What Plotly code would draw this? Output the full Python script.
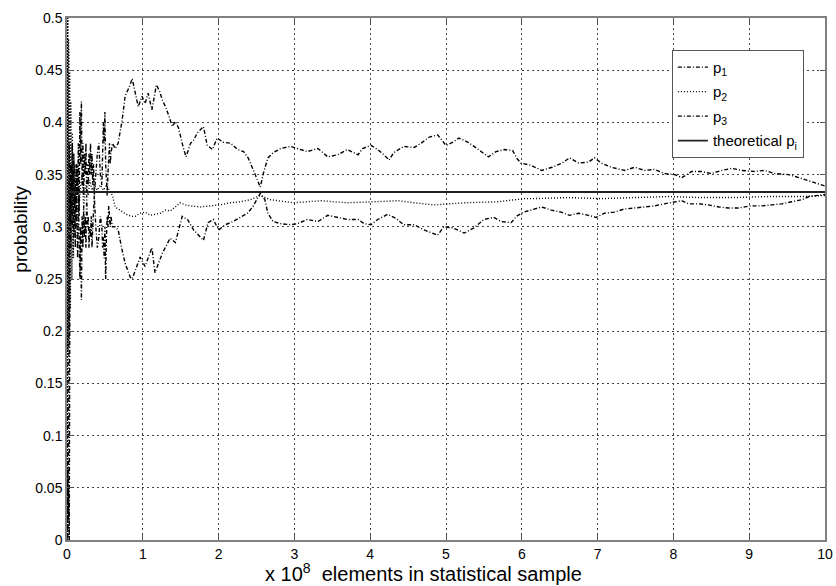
import plotly.graph_objects as go

# ---------------- data (x in units of 1e8 elements) ----------------
p1_x = [0.0, 0.01, 0.02, 0.03, 0.04, 0.05, 0.06, 0.07, 0.08, 0.09, 0.1, 0.11, 0.12, 0.13, 0.14, 0.15,
        0.16, 0.17, 0.18, 0.19, 0.2, 0.21, 0.22, 0.23, 0.24, 0.25, 0.26, 0.27, 0.28, 0.29, 0.3, 0.31,
        0.32, 0.33, 0.34, 0.35, 0.36, 0.38, 0.4, 0.42, 0.44, 0.46, 0.47, 0.48, 0.49, 0.5, 0.51, 0.52,
        0.53, 0.54, 0.55, 0.56, 0.57, 0.58, 0.6,
        0.635, 0.675, 0.70, 0.727, 0.767, 0.80, 0.833, 0.86, 0.90,
        0.94, 0.99, 1.03, 1.07, 1.12, 1.18, 1.22, 1.26, 1.30, 1.34, 1.39, 1.43, 1.47, 1.53, 1.57,
        1.63, 1.67, 1.72, 1.80, 1.85, 1.92, 1.98, 2.06, 2.16, 2.25, 2.33, 2.39, 2.46, 2.53, 2.55,
        2.59, 2.65, 2.72, 2.82, 2.95, 3.04, 3.17, 3.31, 3.44, 3.57, 3.70, 3.84, 3.90, 4.01, 4.10,
        4.18, 4.25, 4.31, 4.44, 4.58, 4.67, 4.78, 4.89, 5.00, 5.09, 5.17, 5.29, 5.37, 5.46, 5.56,
        5.66, 5.77, 5.88, 5.93, 5.99, 6.12, 6.26, 6.40, 6.53, 6.63, 6.75, 6.88, 6.96, 7.05, 7.18,
        7.36, 7.49, 7.62, 7.75, 7.88, 8.02, 8.11, 8.24, 8.37, 8.50, 8.64, 8.77, 8.90, 9.07, 9.20,
        9.34, 9.52, 9.66, 9.74, 9.85, 9.96, 10.0]
p1_y = [0.0, 0.07, 0.02, 0.38, 0.30, 0.36, 0.31, 0.38, 0.33, 0.37, 0.32, 0.34, 0.30, 0.36, 0.33, 0.38,
        0.31, 0.41, 0.36, 0.42, 0.34, 0.38, 0.33, 0.37, 0.35, 0.38, 0.33, 0.36, 0.34, 0.37, 0.35, 0.38,
        0.35, 0.37, 0.34, 0.36, 0.33, 0.35, 0.37, 0.38, 0.35, 0.34, 0.37, 0.40, 0.38, 0.41, 0.36, 0.34,
        0.33, 0.35, 0.37, 0.38, 0.36, 0.37, 0.38,
        0.375, 0.38, 0.39, 0.402, 0.425, 0.43, 0.436, 0.442, 0.43,
        0.415, 0.425, 0.418, 0.428, 0.412, 0.436, 0.43, 0.421, 0.415, 0.407, 0.396, 0.401, 0.395, 0.377, 0.367,
        0.38, 0.383, 0.39, 0.396, 0.378, 0.374, 0.385, 0.381, 0.380, 0.374, 0.372, 0.366, 0.354, 0.342, 0.338,
        0.351, 0.366, 0.371, 0.375, 0.377, 0.375, 0.372, 0.375, 0.367, 0.369, 0.374, 0.369, 0.375, 0.378, 0.374,
        0.369, 0.364, 0.371, 0.377, 0.376, 0.380, 0.386, 0.388, 0.378, 0.381, 0.385, 0.381, 0.377, 0.372, 0.367,
        0.372, 0.374, 0.373, 0.366, 0.361, 0.359, 0.354, 0.357, 0.361, 0.366, 0.361, 0.362, 0.366, 0.361, 0.357,
        0.354, 0.357, 0.354, 0.355, 0.351, 0.350, 0.347, 0.353, 0.353, 0.351, 0.354, 0.356, 0.354, 0.353, 0.354,
        0.351, 0.350, 0.347, 0.345, 0.342, 0.340, 0.339]

p2_x = [0.0, 0.0025, 0.005, 0.0075, 0.01, 0.0125, 0.015, 0.0175, 0.02, 0.0225, 0.025, 0.0275, 0.03,
        0.0325, 0.035, 0.0375, 0.04, 0.045, 0.05, 0.055, 0.06, 0.065, 0.07, 0.075, 0.08, 0.085, 0.09,
        0.095, 0.1, 0.12, 0.14, 0.16, 0.18, 0.2, 0.22, 0.25, 0.28, 0.3, 0.33, 0.36, 0.4,
        0.44, 0.48, 0.52, 0.56, 0.6, 0.635, 0.70, 0.78, 0.85, 0.90, 0.96, 1.03, 1.10, 1.16, 1.23,
        1.30, 1.36, 1.43, 1.49, 1.56, 1.63, 1.76, 1.90, 2.02, 2.15, 2.29, 2.42, 2.55, 2.68, 2.99,
        3.35, 3.70, 4.05, 4.37, 4.58, 4.84, 5.24, 5.69, 6.03, 6.17, 6.61, 7.05, 7.49, 7.94, 8.37,
        8.81, 9.26, 9.70, 10.0]
p2_y = [0.5, 0.0, 0.5, 0.10, 0.5, 0.18, 0.49, 0.20, 0.48, 0.19, 0.47, 0.22, 0.46,
        0.20, 0.45, 0.24, 0.44, 0.22, 0.42, 0.26, 0.40, 0.25, 0.39, 0.28, 0.38, 0.27, 0.37,
        0.30, 0.36, 0.33, 0.35, 0.32, 0.34, 0.35, 0.32, 0.34, 0.33, 0.345, 0.335, 0.34, 0.335,
        0.34, 0.335, 0.34, 0.335, 0.33, 0.319, 0.316, 0.312, 0.310, 0.310, 0.313, 0.314, 0.311, 0.312, 0.313,
        0.316, 0.315, 0.319, 0.323, 0.321, 0.320, 0.319, 0.320, 0.321, 0.323, 0.324, 0.326, 0.330, 0.326, 0.323,
        0.325, 0.323, 0.324, 0.325, 0.323, 0.321, 0.323, 0.324, 0.327, 0.327, 0.328, 0.327, 0.328, 0.329, 0.328,
        0.328, 0.329, 0.329, 0.330]

p3_x = [0.0, 0.01, 0.02, 0.03, 0.04, 0.05, 0.06, 0.07, 0.08, 0.09, 0.1, 0.11, 0.12, 0.13, 0.14, 0.15,
        0.16, 0.17, 0.18, 0.19, 0.2, 0.21, 0.22, 0.23, 0.24, 0.25, 0.26, 0.27, 0.28, 0.29, 0.3, 0.31,
        0.32, 0.33, 0.34, 0.35, 0.36, 0.38, 0.4, 0.42, 0.44, 0.46, 0.47, 0.48, 0.49, 0.5, 0.51, 0.52,
        0.53, 0.54, 0.55, 0.56, 0.57, 0.58, 0.6,
        0.635, 0.675, 0.72, 0.767, 0.833, 0.86, 0.90, 0.965, 1.03,
        1.07, 1.12, 1.16, 1.26, 1.36, 1.43, 1.52, 1.59, 1.67, 1.73, 1.80, 1.86, 1.93, 2.0, 2.09,
        2.19, 2.29, 2.38, 2.45, 2.51, 2.55, 2.61, 2.65, 2.72, 2.82, 2.95, 3.04, 3.17, 3.31, 3.44,
        3.57, 3.70, 3.84, 3.92, 4.01, 4.10, 4.23, 4.34, 4.44, 4.58, 4.71, 4.89, 4.97, 5.09, 5.24,
        5.37, 5.50, 5.63, 5.73, 5.86, 5.93, 6.02, 6.12, 6.26, 6.39, 6.52, 6.63, 6.75, 6.88, 6.98,
        7.09, 7.22, 7.35, 7.49, 7.62, 7.75, 7.88, 8.02, 8.11, 8.20, 8.33, 8.46, 8.60, 8.73, 8.86,
        9.01, 9.17, 9.30, 9.43, 9.56, 9.70, 9.79, 9.92, 10.0]
p3_y = [0.17, 0.0, 0.05, 0.0, 0.33, 0.28, 0.36, 0.30, 0.35, 0.29, 0.33, 0.28, 0.36, 0.30, 0.27, 0.33,
        0.29, 0.25, 0.30, 0.23, 0.31, 0.28, 0.32, 0.29, 0.31, 0.28, 0.33, 0.30, 0.31, 0.28, 0.30, 0.29,
        0.31, 0.28, 0.30, 0.32, 0.33, 0.30, 0.28, 0.29, 0.31, 0.30, 0.28, 0.29, 0.27, 0.30, 0.25, 0.29,
        0.31, 0.30, 0.32, 0.31, 0.30, 0.31, 0.30,
        0.30, 0.297, 0.28, 0.265, 0.252, 0.25, 0.258, 0.271, 0.262,
        0.27, 0.28, 0.256, 0.275, 0.289, 0.285, 0.31, 0.307, 0.297, 0.292, 0.287, 0.304, 0.307, 0.297, 0.302,
        0.305, 0.309, 0.313, 0.319, 0.326, 0.332, 0.326, 0.313, 0.305, 0.303, 0.302, 0.303, 0.307, 0.305, 0.311,
        0.309, 0.307, 0.307, 0.303, 0.302, 0.307, 0.312, 0.308, 0.302, 0.302, 0.297, 0.292, 0.300, 0.299, 0.294,
        0.299, 0.307, 0.309, 0.305, 0.304, 0.310, 0.314, 0.316, 0.319, 0.316, 0.314, 0.311, 0.313, 0.311, 0.309,
        0.313, 0.314, 0.317, 0.318, 0.319, 0.320, 0.322, 0.324, 0.325, 0.322, 0.322, 0.321, 0.319, 0.318, 0.318,
        0.320, 0.320, 0.321, 0.322, 0.324, 0.326, 0.329, 0.330, 0.331]

theory_x = [0.0, 10.0]
theory_p = 1.0 / 3.0

series_names = ["p<sub>1</sub>", "p<sub>2</sub>", "p<sub>3</sub>", "theoretical p<sub>i</sub>"]
y_ticks = [0, 0.05, 0.1, 0.15, 0.2, 0.25, 0.3, 0.35, 0.4, 0.45, 0.5]
x_ticks = [0, 1, 2, 3, 4, 5, 6, 7, 8, 9, 10]

# ---------------- figure ----------------
FONT = "Liberation Sans, Arial, Helvetica, sans-serif"
DASHDOT = "4px,2px,1px,2px"
DOT = "1px,2px"

fig = go.Figure()
fig.add_trace(go.Scatter(x=p1_x, y=p1_y, mode="lines", name=series_names[0], legendgroup="g1",
                         line=dict(color="black", width=1.4, dash=DASHDOT)))
fig.add_trace(go.Scatter(x=p2_x, y=p2_y, mode="lines", name=series_names[1], legendgroup="g2",
                         line=dict(color="black", width=1.4, dash=DOT)))
fig.add_trace(go.Scatter(x=p3_x, y=p3_y, mode="lines", name=series_names[2], legendgroup="g3",
                         line=dict(color="black", width=1.4, dash=DASHDOT)))
fig.add_trace(go.Scatter(x=theory_x, y=[theory_p] * len(theory_x), mode="lines", name=series_names[3],
                         legendgroup="g4", line=dict(color="#222222", width=1.8)))

axis_common = dict(
    showgrid=True, gridcolor="#444444", griddash="2px,3px", gridwidth=1,
    showline=True, linecolor="#808080", linewidth=1.5, mirror="ticks",
    ticks="inside", ticklen=5, tickcolor="#555555", zeroline=False, automargin=False,
    tickfont=dict(family=FONT, size=14, color="black"),
)

fig.update_xaxes(range=[0, 10], tickvals=x_ticks, **axis_common)
fig.update_yaxes(range=[0, 0.5], tickvals=y_ticks, **axis_common)

fig.update_layout(
    width=836, height=586,
    margin=dict(l=67, r=11, t=18, b=46, autoexpand=False),
    plot_bgcolor="white", paper_bgcolor="white",
    font=dict(family=FONT, color="black"),
    showlegend=True,
    legend=dict(x=0.798, y=0.939, xanchor="left", yanchor="top",
                bgcolor="white", bordercolor="#555555", borderwidth=1,
                font=dict(family=FONT, size=15, color="black"),
                tracegroupgap=2),
    annotations=[
        dict(text="x 10<sup>8</sup>  elements in statistical sample", xref="paper", yref="paper",
             x=0.47, y=-0.062, xanchor="center", yanchor="middle", showarrow=False,
             font=dict(family=FONT, size=20, color="black")),
        dict(text="probability", xref="paper", yref="paper", textangle=-90,
             x=-0.061, y=0.596, xanchor="center", yanchor="middle", showarrow=False,
             font=dict(family=FONT, size=19, color="black")),
    ],
)

fig.write_html(
    "out.html",
    config={"responsive": False, "displayModeBar": False},
    post_script="document.body.style.margin='0';document.body.style.overflow='hidden';",
)
